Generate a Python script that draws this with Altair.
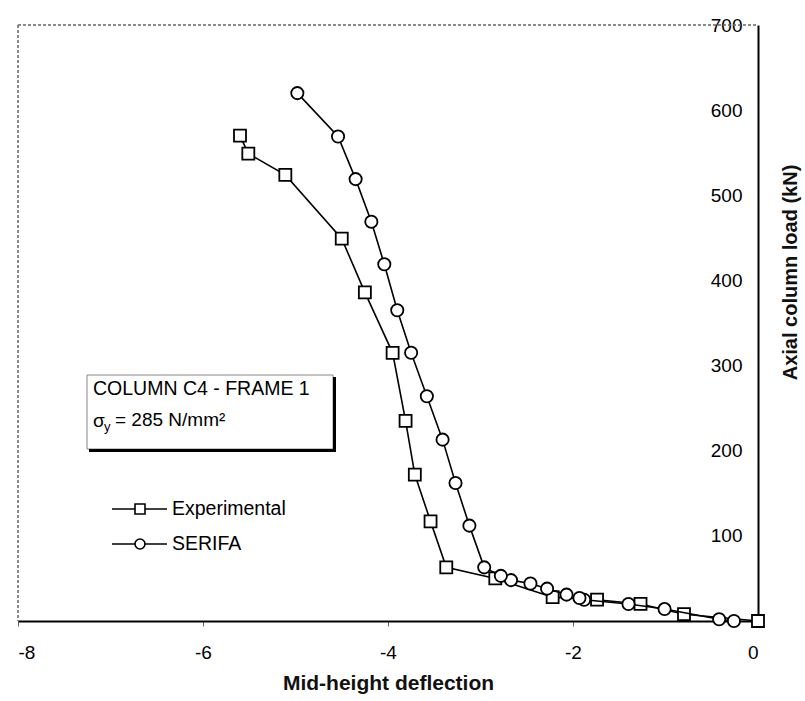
import altair as alt
import pandas as pd

# Column C4, frame 1: mid-height deflection vs axial load (kN)
exp_defl = [0.0, -0.80, -1.27, -1.74, -2.22, -2.84, -3.37, -3.54, -3.71,
            -3.81, -3.95, -4.25, -4.50, -5.11, -5.51, -5.60]
exp_load = [0, 8, 20, 25, 28, 50, 63, 117, 172, 235, 315, 386, 449, 524,
            549, 570]

serifa_defl = [-0.26, -0.42, -1.01, -1.40, -1.88, -1.93, -2.07, -2.28,
               -2.46, -2.67, -2.78, -2.96, -3.12, -3.27, -3.41, -3.58,
               -3.75, -3.90, -4.04, -4.18, -4.35, -4.54, -4.98]
serifa_load = [0, 2, 14, 20, 25, 27, 31, 38, 44, 48, 53, 63, 112, 162, 213,
               264, 315, 365, 419, 469, 519, 569, 620]

x_ticks = [-8, -6, -4, -2, 0]
y_ticks = [100, 200, 300, 400, 500, 600, 700]

series_names = ["Experimental", "SERIFA"]
note_title = "COLUMN C4 - FRAME 1"
note_stress = "= 285 N/mm\u00b2"

FONT = "Liberation Sans"
W, H = 740, 596

exp_df = pd.DataFrame({"deflection": exp_defl, "load": exp_load,
                       "seq": list(range(len(exp_defl)))})
ser_df = pd.DataFrame({"deflection": serifa_defl, "load": serifa_load,
                       "seq": list(range(len(serifa_defl)))})

x_enc = alt.X(
    "deflection:Q",
    scale=alt.Scale(domain=[-8, 0], nice=False, zero=False),
    axis=alt.Axis(
        values=x_ticks, title="Mid-height deflection", grid=False,
        labelExpr="'' + datum.value",
        domainColor="black", domainWidth=2, tickColor="#666", tickSize=5,
        labelFont=FONT, labelFontSize=19, labelColor="black",
        labelBaseline="middle", labelPadding=26,
        titleFont=FONT, titleFontSize=21, titleFontWeight="bold",
        titleColor="#111", titleBaseline="middle", titleY=62,
    ),
)
y_enc = alt.Y(
    "load:Q",
    scale=alt.Scale(domain=[0, 700], nice=False),
    axis=alt.Axis(
        orient="right", values=y_ticks, title="Axial column load (kN)",
        grid=False, domainColor="black", domainWidth=2, ticks=False,
        labelFont=FONT, labelFontSize=19, labelColor="black",
        labelAlign="right", labelPadding=-16,
        titleFont=FONT, titleFontSize=20, titleFontWeight="bold",
        titleColor="#111", titleAngle=270, titleAlign="center",
        titleBaseline="middle", titleX=32, titleY=247,
    ),
)


def series_layers(df, shape, size):
    line = alt.Chart(df).mark_line(color="black", strokeWidth=1.6).encode(
        x=x_enc, y=y_enc, order="seq:Q")
    pts = alt.Chart(df).mark_point(
        shape=shape, size=size, filled=True, fill="white", stroke="black",
        strokeWidth=1.8, opacity=1).encode(x=x_enc, y=y_enc)
    return [line, pts]


# plot frame: dotted top and left edges
frame_df = pd.DataFrame({"k": [0]})
top_edge = alt.Chart(frame_df).mark_rule(
    color="#666", strokeWidth=1.5, strokeDash=[3, 2]).encode(
    x=alt.value(0), x2=alt.value(W), y=alt.value(0))
left_edge = alt.Chart(frame_df).mark_rule(
    color="#666", strokeWidth=1.5, strokeDash=[3, 2]).encode(
    x=alt.value(0), y=alt.value(0), y2=alt.value(H))

# annotation box with drop shadow
box_df = pd.DataFrame({"k": [0]})
box = alt.Chart(box_df).mark_rect(
    fill="white", stroke="#888", strokeWidth=1).encode(
    x=alt.value(69), x2=alt.value(315), y=alt.value(350), y2=alt.value(424))
shadow_r = alt.Chart(box_df).mark_rule(color="black", strokeWidth=3).encode(
    x=alt.value(316.5), y=alt.value(352), y2=alt.value(427))
shadow_b = alt.Chart(box_df).mark_rule(color="black", strokeWidth=3).encode(
    x=alt.value(71), x2=alt.value(318), y=alt.value(425.5))

txt_kw = dict(font=FONT, color="black", align="left", baseline="middle")
note1 = alt.Chart(pd.DataFrame({"t": [note_title]})).mark_text(
    fontSize=19.5, **txt_kw).encode(
    text="t:N", x=alt.value(75), y=alt.value(364))
sigma = alt.Chart(pd.DataFrame({"t": ["\u03c3"]})).mark_text(
    fontSize=19, **txt_kw).encode(
    text="t:N", x=alt.value(75), y=alt.value(396))
sub_y = alt.Chart(pd.DataFrame({"t": ["y"]})).mark_text(
    fontSize=13, **txt_kw).encode(
    text="t:N", x=alt.value(86), y=alt.value(402))
note2 = alt.Chart(pd.DataFrame({"t": [note_stress]})).mark_text(
    fontSize=19, **txt_kw).encode(
    text="t:N", x=alt.value(97), y=alt.value(395))

# legend entries
legend_layers = []
for name, shape, ypix in [(series_names[0], "square", 484),
                          (series_names[1], "circle", 519)]:
    ldf = pd.DataFrame({"t": [name]})
    legend_layers.append(alt.Chart(ldf).mark_rule(
        color="black", strokeWidth=1.6).encode(
        x=alt.value(94), x2=alt.value(149), y=alt.value(ypix)))
    legend_layers.append(alt.Chart(ldf).mark_point(
        shape=shape, size=100, filled=True, fill="white", stroke="black",
        strokeWidth=1.6, opacity=1).encode(
        x=alt.value(122), y=alt.value(ypix)))
    legend_layers.append(alt.Chart(ldf).mark_text(
        fontSize=19.5, **txt_kw).encode(
        text="t:N", x=alt.value(154), y=alt.value(ypix)))

layers = ([top_edge, left_edge]
          + series_layers(exp_df, "square", 144)
          + series_layers(ser_df, "circle", 150)
          + [box, shadow_r, shadow_b, note1, sigma, sub_y, note2]
          + legend_layers)

chart = alt.layer(*layers).properties(
    width=W, height=H,
    autosize=alt.AutoSizeParams(type="none"),
    padding={"left": 18, "top": 25, "right": 47, "bottom": 80},
    background="white",
).configure_view(stroke=None)

chart.save("out.html", embed_options={"renderer": "svg", "actions": False})
